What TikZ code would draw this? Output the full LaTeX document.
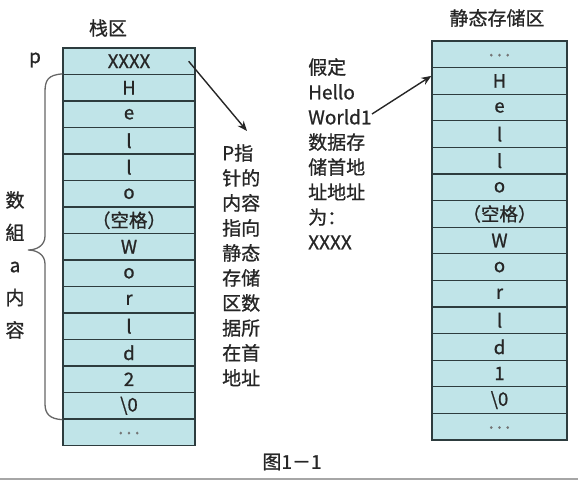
\documentclass[tikz,border=0pt]{standalone}
\usepackage{fontspec}
\setmainfont{Noto Sans CJK SC}[FakeBold=0.9]
\usetikzlibrary{positioning, arrows.meta}

\definecolor{cellfill}{RGB}{192,228,232}
\definecolor{celledge}{RGB}{45,60,62}
\newcommand{\celldots}{\textcolor{black!55}{\raisebox{-4pt}{.\,.\,.}}}

\begin{document}
\begin{tikzpicture}[x=1pt, y=-1pt]

\tikzset{
    cell/.style={draw=celledge, fill=cellfill, line width=1.3pt, minimum width=132pt,
        minimum height=26.5pt, inner sep=0pt, text=black!85, font=\fontsize{18.5}{20}\selectfont},
    label/.style={font=\fontsize{19}{25}\selectfont, text=black!85, inner sep=0pt},
    ptr/.style={line width=1.4pt, black!85, -{Stealth[length=10pt, width=8pt]}},
    brace/.style={line width=1.3pt, black!60}
}

\useasboundingbox (0,0) rectangle (578,480);

%====================================================
% LEFT: stack
%====================================================
\node[label] (stacktitle) at (108,28) {栈区};
\node[label] (pname) at (35,60) {p};

\foreach \t [count=\i] in {XXXX, H, e, l, l, o, （空格）, W, o, r, l, d, 2, \textbackslash 0, \celldots}{
    \node[cell] (s\i) at (129,{61.25+(\i-1)*26.5}) {\t};
}

% brace over the array
\draw[brace] (s2.north west)
    .. controls (48,75) and (45,80) .. (45,92)
    -- (45,236)
    .. controls (45,246) and (36,250) .. (28,250)
    .. controls (36,250) and (45,254) .. (45,264)
    -- (45,404)
    .. controls (45,414) and (50,419) .. (s14.south west);

\node[label, align=center, font=\fontsize{19}{32.5}\selectfont] (arrname) at (15,265)
    {数\\組\\a\\内\\容};

% pointer note
\node[label, align=left, anchor=north west] (pnote) at (222,144)
    {P指\\针的\\内容\\指向\\静态\\存储\\区数\\据所\\在首\\地址};
\coordinate (ptip) at (247,131);
\draw[ptr] ([xshift=-7pt]s1.east) -- (ptip);

%====================================================
% RIGHT: static storage
%====================================================
\node[label] (statictitle) at (497,18) {静态存储区};

\foreach \t [count=\i] in {\celldots, H, e, l, l, o, （空格）, W, o, r, l, d, 1, \textbackslash 0, \celldots}{
    \node[cell, minimum width=135pt, minimum height=26.6pt] (r\i) at (499.5,{54.3+(\i-1)*26.6}) {\t};
}

\node[label, align=left, anchor=north west] (snote) at (308,58)
    {假定\\Hello\\World1\\数据存\\储首地\\址地址\\为：\\XXXX};
\coordinate (wtail) at (372,114);
\draw[ptr] (wtail) -- ([yshift=5pt]r2.west);

% caption
\node[label] (caption) at (292,462) {图1－1};
\draw[gray!70, line width=2pt] (0,479) -- (578,479);

\end{tikzpicture}
\end{document}
